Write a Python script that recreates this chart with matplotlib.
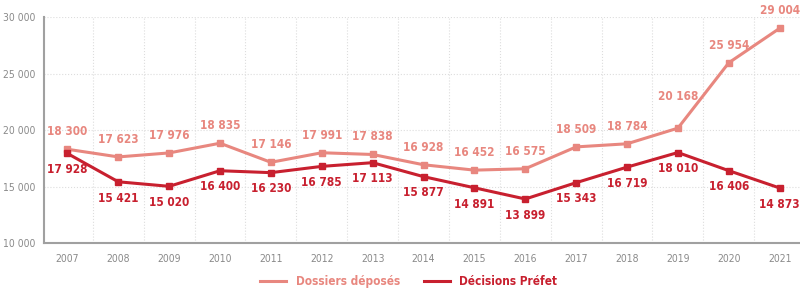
import matplotlib.pyplot as plt

# Données
annees = ["2007", "2008", "2009", "2010", "2011", "2012", "2013", "2014",
          "2015", "2016", "2017", "2018", "2019", "2020", "2021"]
dossiers = [18300, 17623, 17976, 18835, 17146, 17991, 17838, 16928,
            16452, 16575, 18509, 18784, 20168, 25954, 29004]
decisions = [17928, 15421, 15020, 16400, 16230, 16785, 17113, 15877,
             14891, 13899, 15343, 16719, 18010, 16406, 14873]

c_dossiers = "#E8877F"
c_decisions = "#C8202F"
gris = "#8a8a8a"


def fmt(v):
    return f"{v:,}".replace(",", " ")


fig = plt.figure(figsize=(8, 2.89), dpi=100)
ax = fig.add_axes([0.055, 0.159, 0.945, 0.782])

x = list(range(len(annees)))
ax.plot(x, dossiers, color=c_dossiers, lw=2.2, marker="s", ms=5,
        label="Dossiers déposés", zorder=3)
ax.plot(x, decisions, color=c_decisions, lw=2.2, marker="s", ms=5,
        label="Décisions Préfet", zorder=3)

# étiquettes des valeurs (2019 remontée pour ne pas couvrir la courbe)
for i, v in enumerate(dossiers):
    dy = 18 if annees[i] == "2019" else 8
    ax.annotate(fmt(v), (i, v), xytext=(0, dy), textcoords="offset points",
                ha="center", va="bottom", color=c_dossiers, fontsize=8.5,
                fontweight="bold", fontstretch="condensed")
for i, v in enumerate(decisions):
    ax.annotate(fmt(v), (i, v), xytext=(0, -7), textcoords="offset points",
                ha="center", va="top", color=c_decisions, fontsize=8.5,
                fontweight="bold", fontstretch="condensed")

ax.set_xlim(-0.46, 14.4)
ax.set_ylim(10000, 30000)
ax.set_xticks(x)
ax.set_xticklabels(annees)
ax.set_yticks([10000, 15000, 20000, 25000, 30000])
ax.set_yticklabels([fmt(v) for v in [10000, 15000, 20000, 25000, 30000]])
ax.set_xticks([i + 0.5 for i in x[:-1]], minor=True)
ax.tick_params(axis="both", which="both", length=0, colors=gris, labelsize=7.5)
ax.tick_params(axis="x", pad=8)
ax.tick_params(axis="y", pad=6)
for lab in ax.get_xticklabels() + ax.get_yticklabels():
    lab.set_fontstretch("condensed")

ax.grid(axis="y", which="major", color="#dddddd", ls=":", lw=0.8)
ax.grid(axis="x", which="minor", color="#dddddd", ls=":", lw=0.8)
ax.spines["top"].set_visible(False)
ax.spines["right"].set_visible(False)
ax.spines["left"].set_color("#a0a0a0")
ax.spines["bottom"].set_color("#a0a0a0")
ax.spines["left"].set_linewidth(1.5)
ax.spines["bottom"].set_linewidth(1.5)

leg = fig.legend(*ax.get_legend_handles_labels(), loc="center",
                 bbox_to_anchor=(0.511, 0.025), ncol=2, frameon=False,
                 handlelength=2.2, columnspacing=2, borderpad=0,
                 labelcolor="linecolor",
                 prop={"weight": "bold", "size": 8.5, "stretch": "condensed"})
for h in leg.legend_handles:
    h.set_marker("")

fig.savefig("out.png", dpi=100)
